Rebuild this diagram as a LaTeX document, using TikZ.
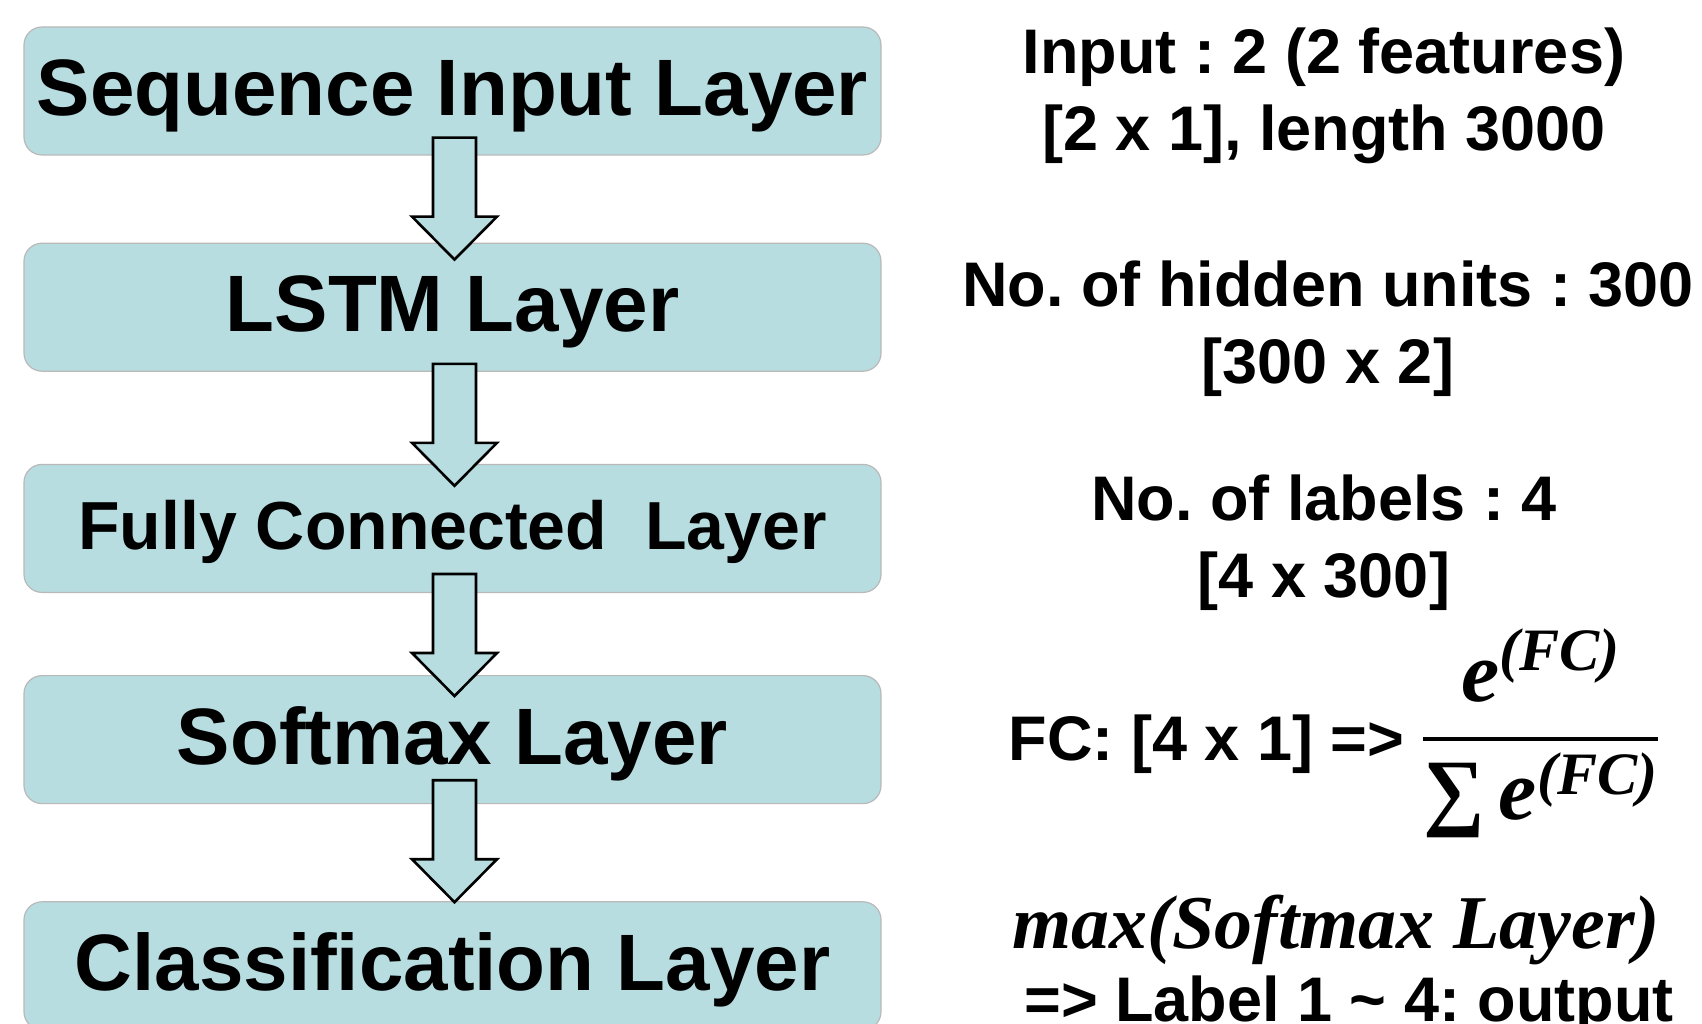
\RequirePackage{fix-cm}
\documentclass[tikz,border=0pt]{standalone}
\usepackage{amsmath}
\usepackage{fontspec}
\setmainfont{Liberation Sans}
\newfontfamily\fcfont{Liberation Serif}
\frenchspacing
\usetikzlibrary{positioning,calc}

\definecolor{layerblue}{RGB}{183,221,224}

\newcommand{\fcsym}[1]{\text{\fcfont\bfseries\itshape #1}}
\newcommand{\layerarrow}[2]{%
  \draw[layerarrow] ($(#1.south)+(2,-#2)$) -- ++(-21.5,0) -- ++(0,79) -- ++(-21,0)
    -- ++(42.5,43) -- ++(42.5,-43) -- ++(-21,0) -- ++(0,-79) -- cycle;}

\begin{document}
\begin{tikzpicture}[x=1pt,y=-1pt,
    layer/.style={draw=gray!55, line width=1.2pt, fill=layerblue, rounded corners=18pt,
      minimum width=857pt, minimum height=128pt, inner sep=0pt,
      font=\fontsize{80}{90}\selectfont\bfseries, text height=57pt, text depth=8pt},
    layerarrow/.style={fill=layerblue, draw=black, line width=2.6pt, line join=miter},
    info/.style={align=center, font=\fontsize{63}{77}\selectfont\bfseries},
    mathinfo/.style={font=\fontsize{76}{80}\selectfont\fcfont\bfseries\itshape}]
  \useasboundingbox (0,0) rectangle (1702,1024);

  \node[layer] (sil) at (452.5,91) {Sequence Input Layer};
  \node[layer, below=87pt of sil] (lstm) {LSTM Layer};
  \node[layer, below=92pt of lstm, font=\fontsize{68}{80}\selectfont\bfseries,
    text height=49pt, text depth=7pt] (fcl) {Fully Connected\ \ Layer};
  \node[layer, below=82pt of fcl] (smx) {Softmax Layer};
  \node[layer, below=97pt of smx] (cls) {Classification Layer};

  \layerarrow{sil}{18}
  \layerarrow{lstm}{8}
  \layerarrow{fcl}{19}
  \layerarrow{smx}{24}

  \node[info] (inp) at (1324,96) {Input : 2 (2 features)\\ {[2 x 1], length 3000}};
  \node[info] (hid) at (1328,329) {No. of hidden units : 300\\ {[300 x 2]}};
  \node[info] (lab) at (1324,543) {No. of labels : 4\\ {[4 x 300]}};
  \node[info, anchor=base] (fcx) at (1334,760) {FC: [4 x 1] => {\fontsize{86}{90}\selectfont$\genfrac{}{}{4pt}{0}{\fcsym{e}^{\fcsym{(FC)}}}{\text{\fcfont\bfseries ∑}\,\fcsym{e}^{\fcsym{(FC)}}}$}};
  \node[mathinfo, anchor=base] (mx) at (1336,948) {max(Softmax Layer)};
  \node[info, anchor=base] (out) at (1349,1021) {=> Label 1 \textasciitilde{} 4: output};
\end{tikzpicture}
\end{document}
